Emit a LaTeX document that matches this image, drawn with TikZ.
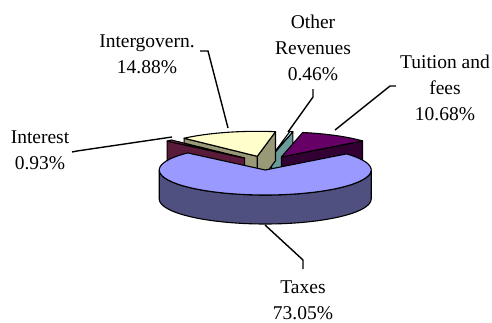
\documentclass[tikz,border=0pt]{standalone}
\usepackage{fontspec}
\setmainfont{Liberation Serif}
\usetikzlibrary{positioning}
\definecolor{taxesTop}{HTML}{9999FF}
\definecolor{taxesSide}{HTML}{4F4F80}
\definecolor{tuitionTop}{HTML}{660066}
\definecolor{tuitionSide}{HTML}{330033}
\definecolor{otherTop}{HTML}{CCFFFF}
\definecolor{otherSide}{HTML}{6A9A9A}
\definecolor{intergovTop}{HTML}{FFFFCC}
\definecolor{intergovSide}{HTML}{999977}
\definecolor{interestTop}{HTML}{993366}
\definecolor{interestSide}{HTML}{5A1A3A}
\def\pieR{106}
\def\pieRy{25}
\def\pieH{29}
% top of a slice: tip, start angle, end angle, colour
\newcommand{\topface}[4]{\filldraw[face, fill=#4] (#1) -- ++({\pieR*cos(#2)},{\pieRy*sin(#2)}) arc[start angle=#2, end angle=#3, x radius=\pieR, y radius=\pieRy] -- cycle;}
% cut side of a slice: tip, angle, colour
\newcommand{\radface}[3]{\filldraw[face, fill=#3] (#1) -- ++({\pieR*cos(#2)},{\pieRy*sin(#2)}) -- ++(0,-\pieH) -- ++({-\pieR*cos(#2)},{-\pieRy*sin(#2)}) -- cycle;}
\begin{document}
\begin{tikzpicture}[x=1pt, y=1pt,
    every node/.style={font=\fontsize{19.5}{26}\selectfont, align=center, inner sep=0pt},
    face/.style={draw=black, line width=1.1pt, line join=round},
    leader/.style={draw=black, line width=1.4pt}]
    \useasboundingbox (0,0) rectangle (492,322);
    % centre of the pie and the tips of the pulled-out slices
    \coordinate (C) at (266,159);
    \path (C) ++({30*cos(79.25)},{7*sin(79.25)}) coordinate (pOther);
    \path (C) ++({30*cos(106.9)},{7*sin(106.9)}) coordinate (pIntergov);
    \path (C) ++({30*cos(59.2)},{7*sin(59.2)}) coordinate (pTuition);
    \path (C) ++({30*cos(135.35)},{7*sin(135.35)}) coordinate (pInterest);
    \path (C) ++({30*cos(268.5)},{7*sin(268.5)}) coordinate (pTaxes);

    % Draw back slices
    \radface{pOther}{78.4}{otherSide}
    \topface{pOther}{78.4}{80.1}{otherTop}
    \radface{pIntergov}{80.1}{intergovSide}
    \radface{pIntergov}{133.7}{intergovSide}
    \topface{pIntergov}{80.1}{133.7}{intergovTop}
    \radface{pTuition}{40}{tuitionSide}
    \topface{pTuition}{40}{78.4}{tuitionTop}
    \radface{pInterest}{137}{interestSide}
    \topface{pInterest}{133.7}{137}{interestTop}

    % Draw taxes slice in front
    \filldraw[face, fill=taxesSide] (pTaxes) ++(-\pieR,0) arc[start angle=180, end angle=360, x radius=\pieR, y radius=\pieRy] -- ++(0,-\pieH) arc[start angle=360, end angle=180, x radius=\pieR, y radius=\pieRy] -- cycle;
    \topface{pTaxes}{137}{400}{taxesTop}

    % Draw labels
    \node (lblIntergov) at (147,268) {Intergovern.\\14.88\%};
    \node (lblOther) at (313,274) {Other\\Revenues\\0.46\%};
    \node (lblTuition) at (445,234) {Tuition and\\fees\\10.68\%};
    \node (lblInterest) at (40,172) {Interest\\0.93\%};
    \node (lblTaxes) at (303,22) {Taxes\\73.05\%};

    % Draw leader lines
    \coordinate (kIntergov) at (200,271);
    \coordinate (tIntergov) at (228,194);
    \coordinate (kOther) at (313,233);
    \coordinate (tOther) at (288,190);
    \coordinate (kTuition) at (396,236);
    \coordinate (tTuition) at (335,192);
    \coordinate (kInterest) at (72,170);
    \coordinate (tInterest) at (172,185);
    \coordinate (kTaxes) at (303,53);
    \coordinate (tTaxes) at (265,97);
    \draw[leader] (kIntergov) -- ++(8,0) -- (tIntergov);
    \draw[leader] (kOther) -- ++(0,-8) -- (tOther);
    \draw[leader] (kTuition) -- ++(-6,0) -- (tTuition);
    \draw[leader] (kInterest) -- ++(5,1) -- (tInterest);
    \draw[leader] (kTaxes) -- ++(0,9) -- (tTaxes);
\end{tikzpicture}
\end{document}
